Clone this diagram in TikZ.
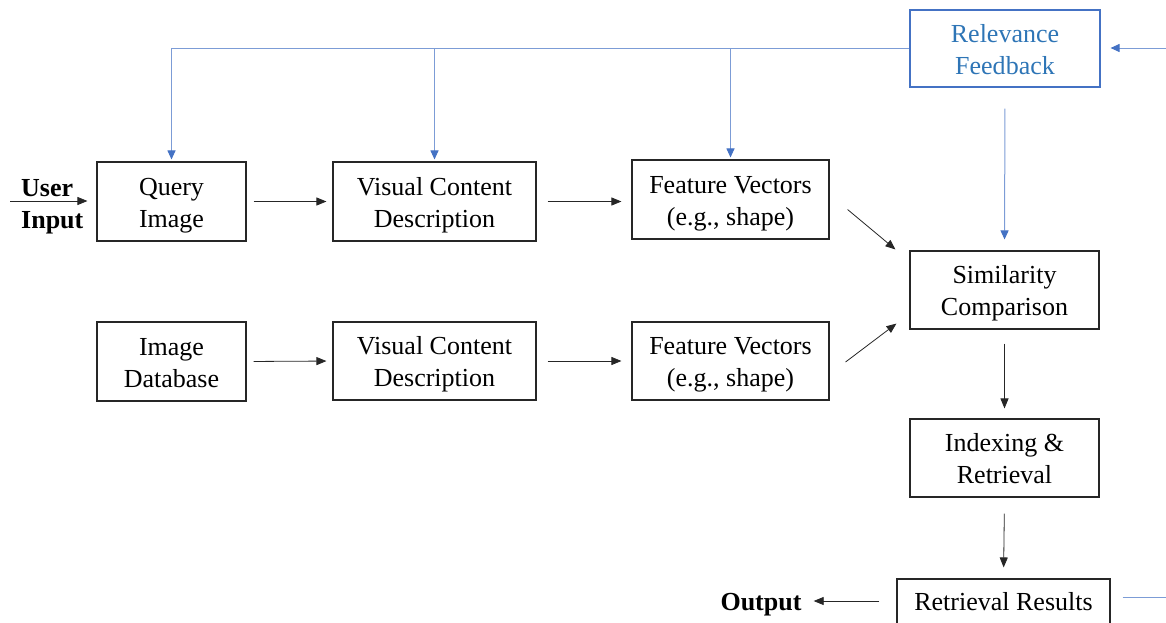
\documentclass[tikz,border=0pt]{standalone}
\usepackage{fontspec}
\setmainfont{Liberation Serif}
\usetikzlibrary{arrows.meta,calc}
\definecolor{fbblue}{HTML}{4472C4}
\definecolor{fbtext}{HTML}{2E75B6}
\newcommand\btxt[1]{\raisebox{-3.5pt}[\height][\depth]{\begin{tabular}{@{}c@{}}#1\end{tabular}}}
\begin{document}
\begin{tikzpicture}[x=1pt,y=-1pt,
  box/.style={draw=black!85,line width=1.1pt,align=center,inner sep=0pt,
    font=\fontsize{26}{32}\selectfont},
  lab/.style={align=left,inner sep=0pt,font=\fontsize{26}{32}\selectfont\bfseries},
  arr/.style={draw=black!85,line width=0.8pt,-{Triangle[length=10pt,width=8pt]}},
  fb/.style={draw=fbblue!70,line width=1pt},
  fbarr/.style={fb,-{Triangle[length=9pt,width=8pt,color=fbblue]}}]
\clip (0,0) rectangle (1166,622);
% nodes
\node[box,minimum width=149pt,minimum height=79pt] (q) at (171.5,201.5) {\btxt{Query\\Image}};
\node[box,minimum width=203pt,minimum height=79pt] (v1) at (434.5,201.5) {\btxt{Visual Content\\Description}};
\node[box,minimum width=197pt,minimum height=79pt] (f1) at (730.5,199.5) {\btxt{Feature Vectors\\(e.g., shape)}};
\node[box,minimum width=149pt,minimum height=79pt] (db) at (171.5,361.5) {\btxt{Image\\Database}};
\node[box,minimum width=203pt,minimum height=78pt] (v2) at (434.5,361) {\btxt{Visual Content\\Description}};
\node[box,minimum width=197pt,minimum height=78pt] (f2) at (730.5,361) {\btxt{Feature Vectors\\(e.g., shape)}};
\node[box,draw=fbblue,text=fbtext,minimum width=190pt,minimum height=77pt] (rf) at (1005,48.5) {\btxt{Relevance\\Feedback}};
\node[box,minimum width=189pt,minimum height=78pt] (sim) at (1004.5,290) {\btxt{Similarity\\Comparison}};
\node[box,minimum width=189pt,minimum height=78pt] (ix) at (1004.5,458) {\btxt{Indexing \&\\Retrieval}};
\node[box,minimum width=213pt,minimum height=48pt] (res) at (1003.5,603) {\raisebox{-7pt}[0pt][0pt]{Retrieval Results}};
\node[lab,anchor=west] (ui) at (21,207) {User\\Input};
\node[lab] (out) at (761,605) {Output};
\coordinate (uistart) at (10,201);
\coordinate (rfin) at (1166,48);
\coordinate (resout) at (1166,597);
% black arrows
\draw[arr,shorten >=9pt] (uistart) -- (uistart -| q.west);
\draw[arr,shorten <=7pt,shorten >=6pt] (q.east) -- (v1.west);
\draw[arr,shorten <=11pt,shorten >=10pt] (v1.east) -- (f1.west |- v1.east);
\draw[arr,shorten <=7pt,shorten >=6pt] (db.east) -- (v2.west);
\draw[arr,shorten <=11pt,shorten >=10pt] (v2.east) -- (f2.west);
\draw[arr] ($(f1.east)+(18,10)$) -- ($(sim.north west)+(-14,-1)$);
\draw[arr] ($(f2.east)+(16,1)$) -- ($(sim.south west)+(-13,-6)$);
\draw[arr,shorten <=14pt,shorten >=10pt] (sim.south) -- (ix.north);
\draw[arr,shorten <=16pt,shorten >=11pt] (ix.south) -- (res.north);
\draw[arr,shorten <=17pt,shorten >=12pt] (res.west |- 0,601) -- (out.east |- 0,601);
% feedback (blue)
\draw[fbarr,shorten >=2pt] (rf.west) -| (q.north);
\draw[fbarr,shorten >=2pt] (v1.north |- rf.west) -- (v1.north);
\draw[fbarr,shorten >=2pt] (f1.north |- rf.west) -- (f1.north);
\draw[fbarr,shorten <=21pt,shorten >=11pt] (rf.south) -- (sim.north);
\draw[fbarr,shorten >=10pt] (rfin) -- (rf.east |- rfin);
\draw[fb] ($(res.east |- resout)+(12,0)$) -- (resout);
\end{tikzpicture}
\end{document}
